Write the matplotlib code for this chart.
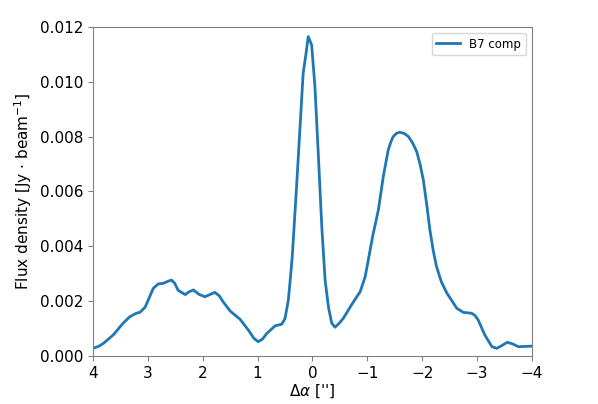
import numpy as np
import matplotlib
matplotlib.use('Agg')
import matplotlib.pyplot as plt

# offset in arcsec and flux density in Jy/beam
offset = [4.00, 3.90, 3.81, 3.63, 3.45, 3.33, 3.22, 3.14, 3.05, 2.97, 2.90,
          2.81, 2.72, 2.64, 2.57, 2.51, 2.45, 2.32, 2.25, 2.17, 2.07, 1.96,
          1.87, 1.78, 1.70, 1.63, 1.50, 1.32, 1.17, 1.07, 0.99, 0.91, 0.83,
          0.68, 0.56, 0.50, 0.44, 0.40, 0.37, 0.35, 0.29, 0.23, 0.17, 0.12,
          0.077, 0.015, -0.045, -0.105, -0.17, -0.23, -0.29, -0.35, -0.41,
          -0.48, -0.56, -0.71, -0.87, -0.96, -1.04, -1.10, -1.20, -1.29,
          -1.38, -1.43, -1.47, -1.53, -1.59, -1.67, -1.75, -1.83, -1.90,
          -1.96, -2.02, -2.08, -2.14, -2.20, -2.26, -2.35, -2.45, -2.63,
          -2.75, -2.90, -2.96, -3.02, -3.14, -3.27, -3.36, -3.45, -3.55,
          -3.65, -3.75, -4.00]
flux = [0.00028, 0.00035, 0.00046, 0.00077, 0.00120, 0.00143, 0.00155,
        0.00160, 0.00178, 0.00215, 0.00247, 0.00263, 0.00265, 0.00272,
        0.00277, 0.00265, 0.00240, 0.00224, 0.00234, 0.00241, 0.00225,
        0.00216, 0.00224, 0.00232, 0.00220, 0.00198, 0.00164, 0.00134,
        0.00095, 0.00065, 0.00052, 0.00062, 0.00083, 0.00110, 0.00116,
        0.00137, 0.00204, 0.00290, 0.00360, 0.00423, 0.00618, 0.00824,
        0.01031, 0.01100, 0.01165, 0.01134, 0.00982, 0.00740, 0.00470,
        0.00277, 0.00180, 0.00120, 0.00105, 0.00118, 0.00137, 0.00186,
        0.00235, 0.00289, 0.00375, 0.00440, 0.00532, 0.00654, 0.00751,
        0.00782, 0.00800, 0.00812, 0.00816, 0.00812, 0.00800, 0.00775,
        0.00745, 0.00700, 0.00642, 0.00555, 0.00460, 0.00385, 0.00326,
        0.00270, 0.00229, 0.00174, 0.00159, 0.00156, 0.00148, 0.00131,
        0.00077, 0.00034, 0.00028, 0.00038, 0.00050, 0.00044, 0.00034,
        0.00036]

plt.rcParams['font.size'] = 11

fig = plt.figure(figsize=(5.98, 4.04), dpi=100)
ax = fig.add_axes([0.1555, 0.1188, 0.7341, 0.8144])
ax.plot(offset, flux, color='#1f77b4', lw=2, label='B7 comp')
ax.set_xlim(4, -4)
ax.set_ylim(0, 0.012)
ax.set_xticks(np.arange(4, -5, -1))
ax.set_yticks(np.arange(0, 0.0121, 0.002))
ax.set_xlabel(r"$\Delta\alpha$ ['']", labelpad=1)
ax.set_ylabel(r"Flux density [Jy $\cdot$ beam$^{-1}$]")
for s in ax.spines.values():
    s.set_color('#808080')
ax.tick_params(colors='#808080', labelcolor='black')
ax.legend(loc='upper right', fontsize=8.5)
fig.savefig('out.png', dpi=100)
